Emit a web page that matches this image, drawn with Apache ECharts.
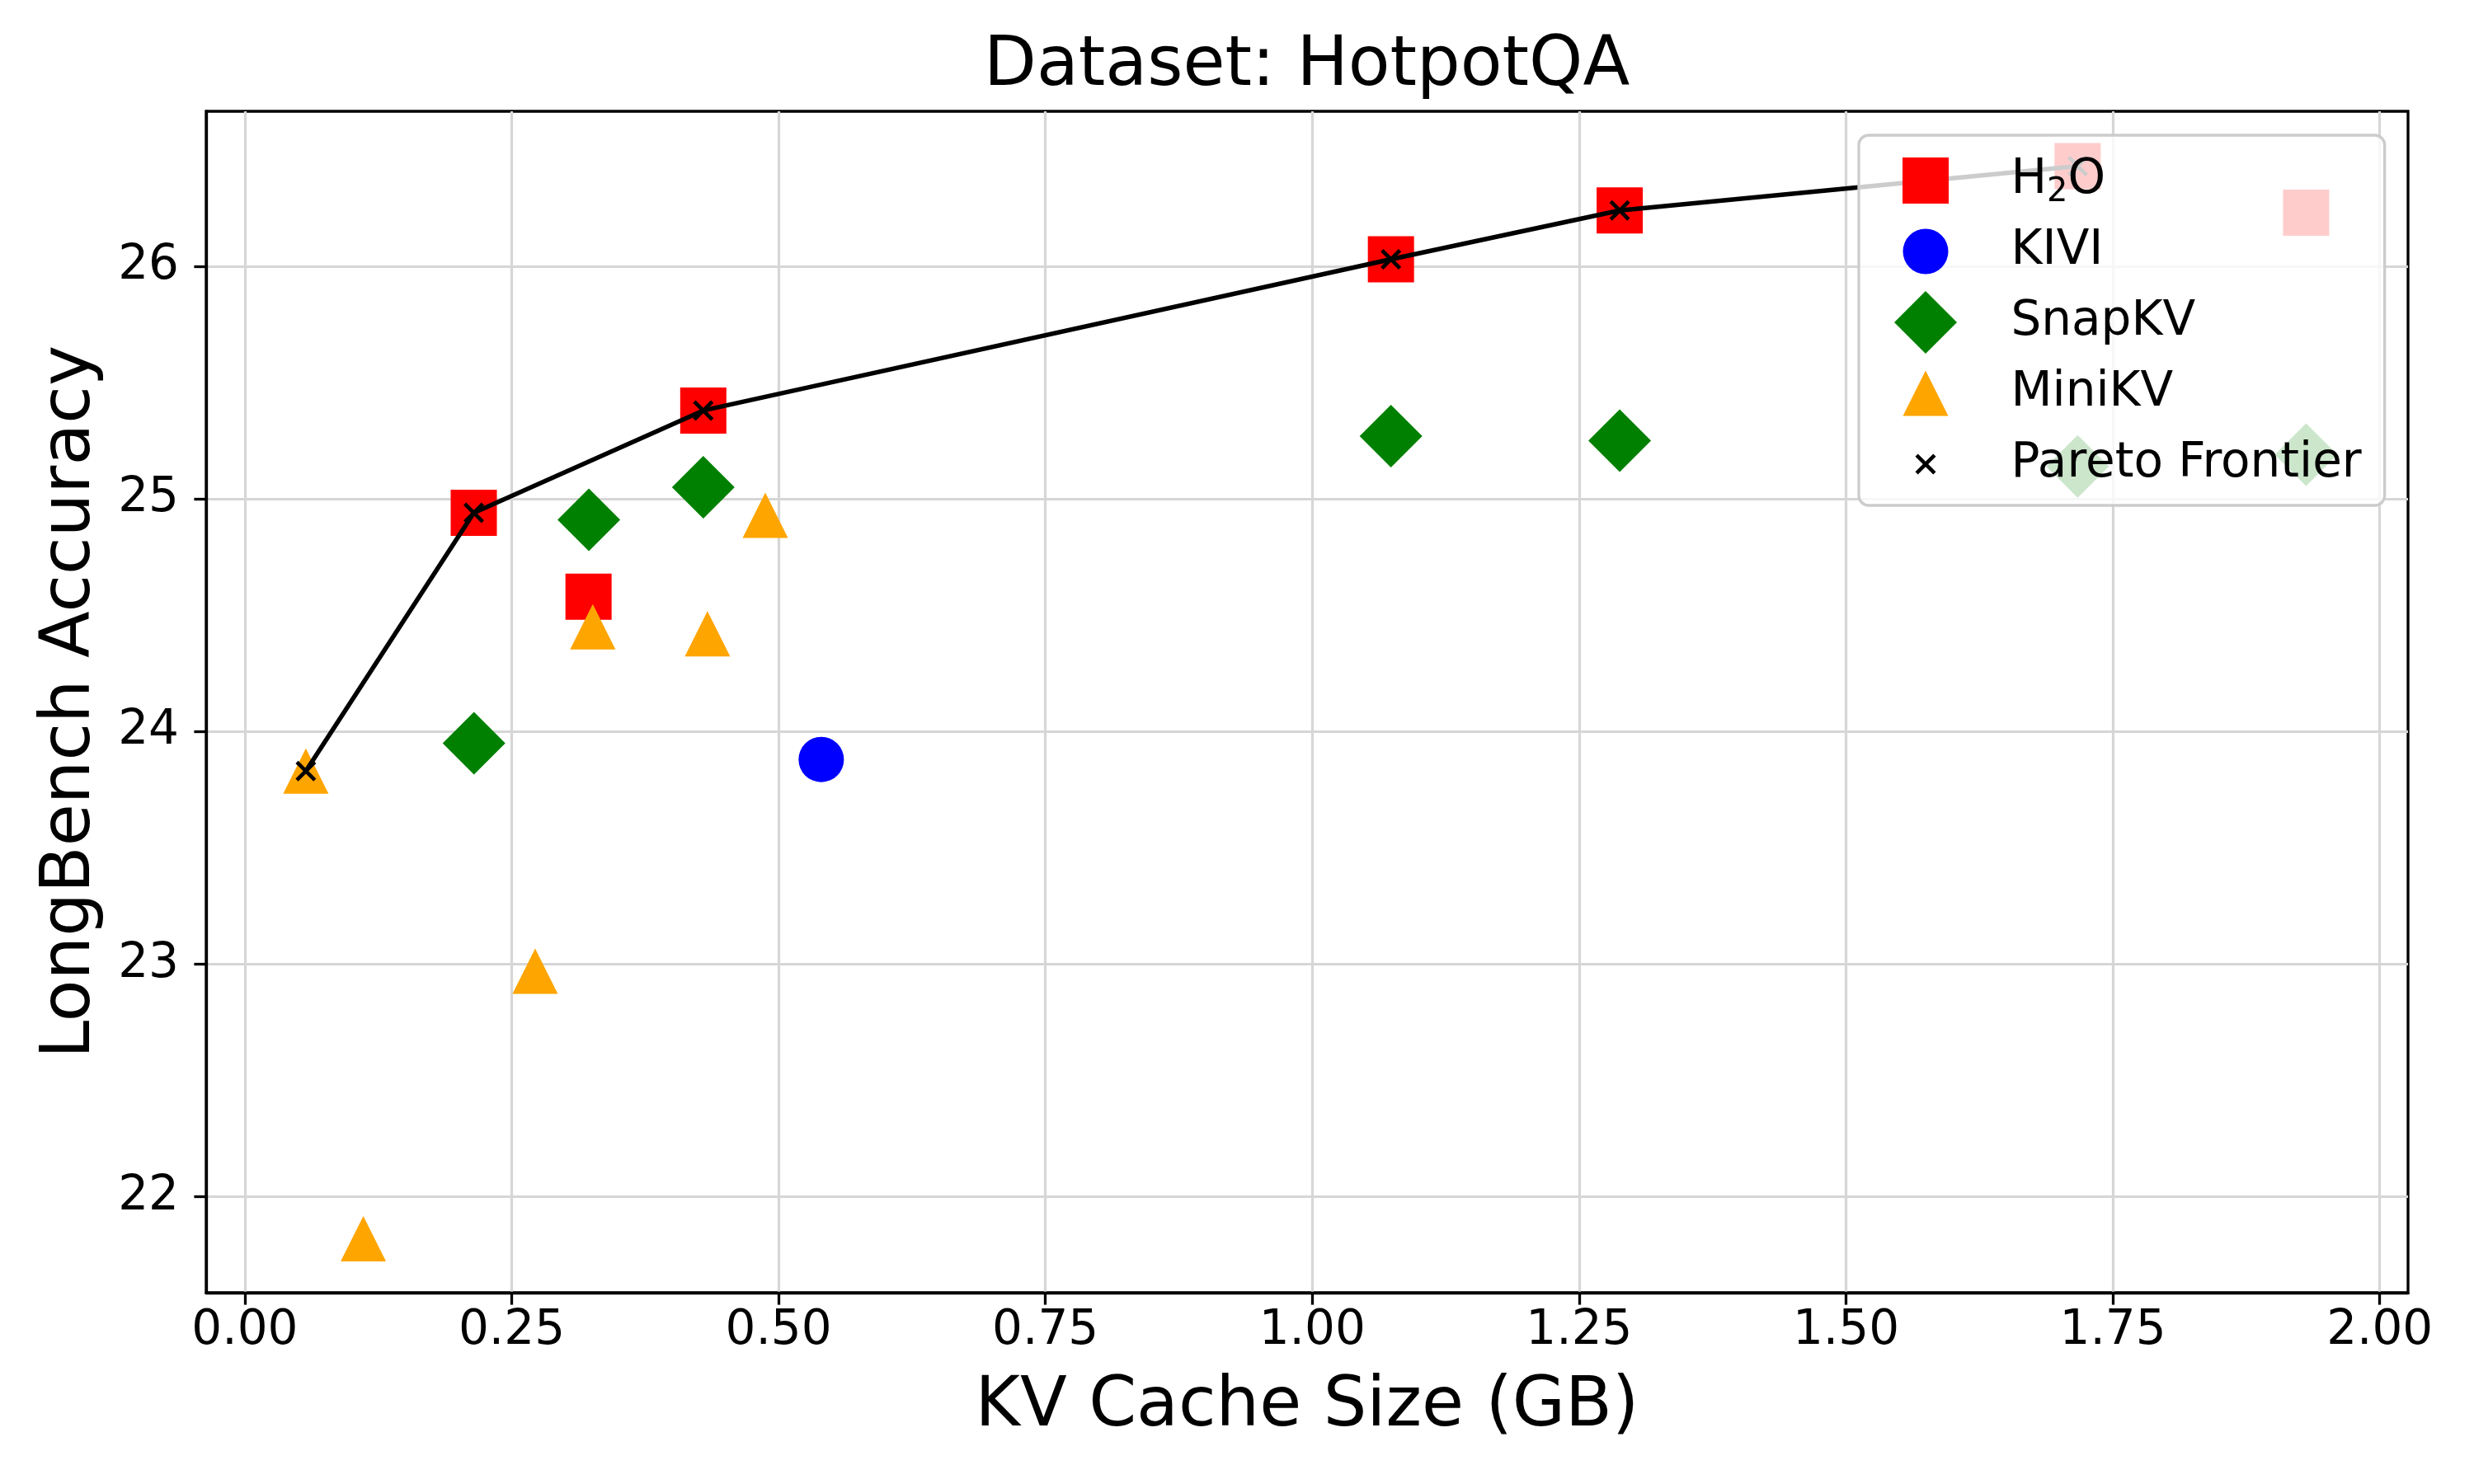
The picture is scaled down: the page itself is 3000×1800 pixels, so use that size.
<!DOCTYPE html>
<html>
<head>
<meta charset="utf-8">
<title>Dataset: HotpotQA</title>
<script src="https://cdn.jsdelivr.net/npm/echarts@6/dist/echarts.min.js"></script>
<style>
  html, body { margin: 0; padding: 0; background: #fff; }
  #chart { width: 3000px; height: 1800px; }
</style>
</head>
<body>
<div id="chart"></div>
<script>
// values
const h2oSize = [0.2145, 0.322, 0.4295, 1.0737, 1.288, 1.717, 1.931];
const h2oAcc = [24.94, 24.58, 25.38, 26.03, 26.24, 26.43, 26.23];

const kiviSize = [0.54];
const kiviAcc = [23.88];

const snapSize = [0.2147, 0.3223, 0.4295, 1.0737, 1.288, 1.717, 1.931];
const snapAcc = [23.95, 24.91, 25.05, 25.27, 25.25, 25.14, 25.19];

const miniSize = [0.0572, 0.111, 0.272, 0.326, 0.4334, 0.4876];
const miniAcc = [23.83, 21.82, 22.97, 24.45, 24.42, 24.93];

const paretoSize = [0.0572, 0.2145, 0.4295, 1.0737, 1.288, 1.717];
const paretoAcc = [23.83, 24.94, 25.38, 26.03, 26.24, 26.43];

const xTicks = [0, 0.25, 0.5, 0.75, 1.0, 1.25, 1.5, 1.75, 2.0];
const yTicks = [22, 23, 24, 25, 26];

const FONT = 'DejaVu Sans';

function zip(xs, ys) {
  return xs.map((x, i) => [x, ys[i]]);
}

// filled "x" marker
const xMark = 'path://M0,1.3L1.3,0L5,3.7L8.7,0L10,1.3L6.3,5L10,8.7L8.7,10L5,6.3L1.3,10L0,8.7L3.7,5Z';

// legend icons drawn inside a 77x77 box so each keeps its own size
const box = 'M0,0L0.01,0.01M77,77L76.99,76.99';
const iconSquare = 'path://' + box + 'M10.5,10.5L66.5,10.5L66.5,66.5L10.5,66.5Z';
const iconCircle = 'path://' + box + 'M11,38.5A27.5,27.5 0 1 1 66,38.5A27.5,27.5 0 1 1 11,38.5Z';
const iconDiamond = 'path://' + box + 'M38.5,0.5L76.5,38.5L38.5,76.5L0.5,38.5Z';
const iconTriangle = 'path://' + box + 'M38.5,11L66,66L11,66Z';
const iconX = 'path://' + box +
  'M26,29.2L29.2,26L38.5,35.3L47.8,26L51,29.2L41.7,38.5L51,47.8L47.8,51L38.5,41.7L29.2,51L26,47.8L35.3,38.5Z';

function axisCommon(name, gap, ticks, labelMargin, fmt) {
  return {
    type: 'value',
    name: name,
    nameLocation: 'middle',
    nameGap: gap,
    nameTextStyle: { fontFamily: FONT, fontSize: 83, color: '#000' },
    axisLine: { show: true, onZero: false, lineStyle: { color: '#000', width: 3.3 } },
    axisTick: { show: true, length: 14.6, lineStyle: { color: '#000', width: 3.3 }, customValues: ticks },
    axisLabel: {
      show: true, customValues: ticks, margin: labelMargin,
      fontFamily: FONT, fontSize: 58, color: '#000', formatter: fmt
    },
    splitLine: { show: true, lineStyle: { color: '#d6d6d6', width: 3.2 } }
  };
}

const xAxis = axisCommon('KV Cache Size (GB)', 98, xTicks, 18, v => v.toFixed(2));
xAxis.min = -0.0362;
xAxis.max = 2.0265;

const yAxis = axisCommon('LongBench Accuracy', 122, yTicks, 33, v => String(v));
yAxis.min = 21.588;
yAxis.max = 26.666;

const option = {
  backgroundColor: '#fff',
  animation: false,
  title: {
    text: 'Dataset: HotpotQA',
    left: 1193,
    top: 40,
    padding: 0,
    textStyle: { fontFamily: FONT, fontSize: 83, fontWeight: 'normal', color: '#000' }
  },
  grid: {
    left: 250, right: 80, top: 135, bottom: 232,
    containLabel: false,
    outerBoundsMode: 'none',
    show: true,
    borderColor: '#000',
    borderWidth: 3.3,
    backgroundColor: 'transparent'
  },
  legend: {
    orient: 'vertical',
    left: 2254,
    top: 164,
    itemWidth: 77,
    itemHeight: 77,
    itemGap: 9,
    padding: [16.5, 28, 11.5, 42.5],
    backgroundColor: 'rgba(255,255,255,0.8)',
    borderColor: '#cccccc',
    borderWidth: 3.3,
    borderRadius: 12,
    selectedMode: false,
    data: [
      { name: 'H2O', icon: iconSquare },
      { name: 'KIVI', icon: iconCircle },
      { name: 'SnapKV', icon: iconDiamond },
      { name: 'MiniKV', icon: iconTriangle },
      { name: 'Pareto Frontier', icon: iconX }
    ],
    formatter: function (name) {
      if (name === 'H2O') return '{f|H}{s|2}{t|O}';
      return '{f|' + name + '}';
    },
    textStyle: {
      fontFamily: FONT, fontSize: 58, color: '#000',
      rich: {
        f: { fontFamily: FONT, fontSize: 58, lineHeight: 70, color: '#000', padding: [0, 0, 0, 60] },
        t: { fontFamily: FONT, fontSize: 58, lineHeight: 70, color: '#000' },
        s: { fontFamily: FONT, fontSize: 40, lineHeight: 44, color: '#000', verticalAlign: 'bottom' }
      }
    }
  },
  xAxis: xAxis,
  yAxis: yAxis,
  series: [
    {
      name: 'H2O', type: 'scatter', symbol: 'rect', symbolSize: 56,
      itemStyle: { color: '#ff0000', opacity: 1, borderWidth: 0 },
      data: zip(h2oSize, h2oAcc), z: 2
    },
    {
      name: 'KIVI', type: 'scatter', symbol: 'circle', symbolSize: 55,
      itemStyle: { color: '#0000ff', opacity: 1, borderWidth: 0 },
      data: zip(kiviSize, kiviAcc), z: 2
    },
    {
      name: 'SnapKV', type: 'scatter', symbol: 'diamond', symbolSize: 76,
      itemStyle: { color: '#008000', opacity: 1, borderWidth: 0 },
      data: zip(snapSize, snapAcc), z: 2
    },
    {
      name: 'MiniKV', type: 'scatter', symbol: 'triangle', symbolSize: 55,
      itemStyle: { color: '#ffa500', opacity: 1, borderWidth: 0 },
      data: zip(miniSize, miniAcc), z: 2
    },
    {
      name: 'Pareto Frontier', type: 'line',
      symbol: xMark, symbolSize: 25, showSymbol: true,
      lineStyle: { color: '#000', width: 5.5 },
      itemStyle: { color: '#000', opacity: 1, borderWidth: 0 },
      emphasis: { disabled: true },
      data: zip(paretoSize, paretoAcc), z: 3
    }
  ]
};

const chart = echarts.init(document.getElementById('chart'), null, { renderer: 'canvas' });
chart.setOption(option);
</script>
</body>
</html>
